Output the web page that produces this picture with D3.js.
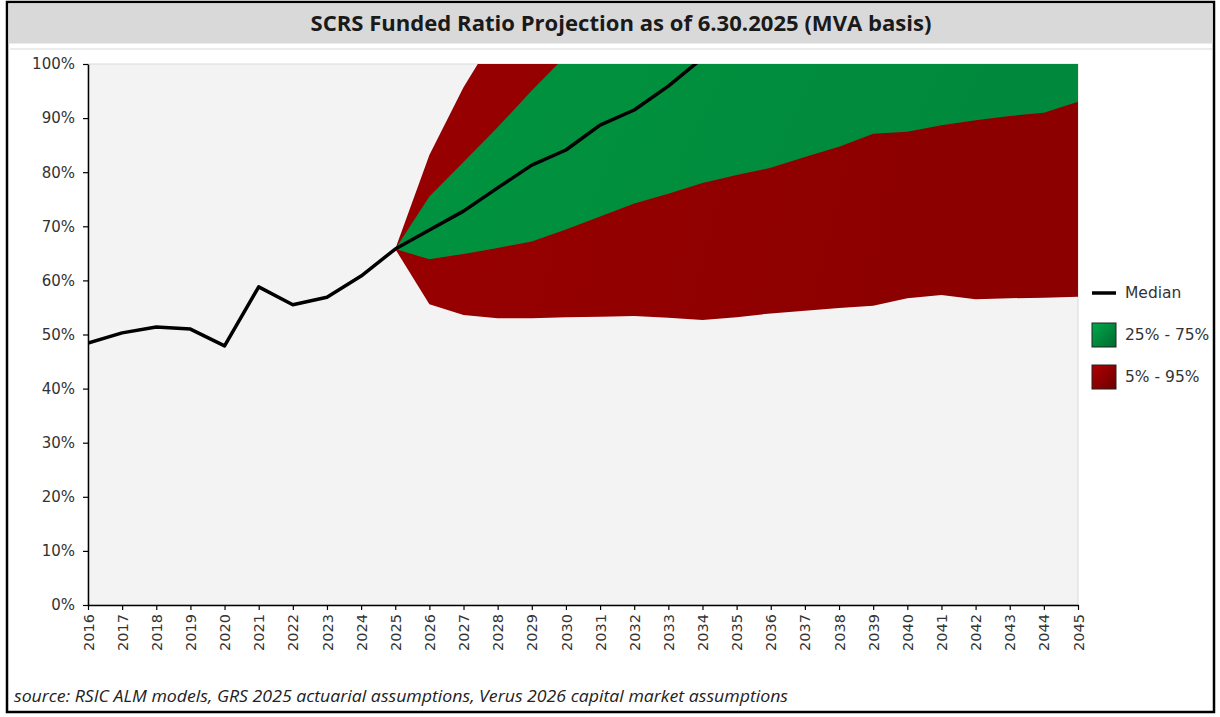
<!DOCTYPE html>
<html>
<head>
<meta charset="utf-8">
<script src="https://cdn.jsdelivr.net/npm/d3@7"></script>
<style>
  body { margin: 0; background: #fff; }
  svg { display: block; }
</style>
</head>
<body>
<div id="chart"></div>
<script>
// ---- data ----
var years = [2016, 2017, 2018, 2019, 2020, 2021, 2022, 2023, 2024, 2025,
             2026, 2027, 2028, 2029, 2030, 2031, 2032, 2033, 2034, 2035,
             2036, 2037, 2038, 2039, 2040, 2041, 2042, 2043, 2044, 2045];

// median funded ratio, history then projection (leaves the chart above 100% after 2033)
var medianYears = [2016, 2017, 2018, 2019, 2020, 2021, 2022, 2023, 2024, 2025,
                   2026, 2027, 2028, 2029, 2030, 2031, 2032, 2033, 2034];
var median = [48.4, 50.3, 51.4, 51.0, 47.9, 58.8, 55.5, 56.9, 60.8, 65.8,
              69.3, 72.8, 77.1, 81.3, 84.1, 88.7, 91.5, 95.9, 101.1];

// percentile bands, 2025 - 2045
var bandYears = [2025, 2026, 2027, 2028, 2029, 2030, 2031, 2032, 2033, 2034, 2035,
                 2036, 2037, 2038, 2039, 2040, 2041, 2042, 2043, 2044, 2045];
var p5  = [65.8, 55.6, 53.6, 53.0, 53.0, 53.2, 53.3, 53.4, 53.1, 52.7, 53.2,
           53.9, 54.4, 54.9, 55.3, 56.7, 57.3, 56.5, 56.7, 56.8, 57.0];
var p25 = [65.8, 63.9, 64.9, 66.0, 67.2, 69.4, 71.8, 74.2, 76.0, 78.0, 79.5,
           80.8, 82.8, 84.7, 87.1, 87.5, 88.7, 89.6, 90.4, 91.0, 93.0];
var p75 = [65.8, 75.5, 81.9, 88.3, 95.1, 101.5, 105, 108, 111, 114, 117,
           120, 123, 126, 129, 132, 135, 138, 141, 144, 147];
var p95 = [65.8, 83.2, 95.7, 106, 112, 118, 124, 130, 136, 142, 148,
           154, 160, 166, 172, 178, 184, 190, 196, 202, 208];

var yTicks = [0, 10, 20, 30, 40, 50, 60, 70, 80, 90, 100];

var legendItems = [
  {name: "Median", type: "line"},
  {name: "25% - 75%", type: "box", fill: "url(#legGreen)"},
  {name: "5% - 95%", type: "box", fill: "url(#legRed)"}
];

var title = "SCRS Funded Ratio Projection as of 6.30.2025 (MVA basis)";
var source = "source: RSIC ALM models, GRS 2025 actuarial assumptions, Verus 2026 capital market assumptions";

// ---- layout ----
var W = 1220, H = 717;
var plot = {left: 88, right: 1078, top: 64, bottom: 605};

var svg = d3.select("#chart").append("svg")
    .attr("width", W)
    .attr("height", H);

var defs = svg.append("defs");

function gradient(id, from, to, x2, y2) {
  var g = defs.append("linearGradient")
      .attr("id", id)
      .attr("x1", "0").attr("y1", "0")
      .attr("x2", x2).attr("y2", y2);
  g.append("stop").attr("offset", "0%").attr("stop-color", from);
  g.append("stop").attr("offset", "100%").attr("stop-color", to);
}
gradient("bandRed", "#9c0000", "#8c0000", "1", "0.3");
gradient("bandGreen", "#00963f", "#00893c", "1", "0.3");
gradient("legRed", "#b00000", "#6c0000", "1", "1");
gradient("legGreen", "#00a94c", "#006a2e", "1", "1");

defs.append("clipPath").attr("id", "plotClip")
  .append("rect")
    .attr("x", plot.left)
    .attr("y", plot.top)
    .attr("width", plot.right - plot.left)
    .attr("height", plot.bottom - plot.top);

// outer frame
svg.append("rect")
    .attr("x", 7).attr("y", 2)
    .attr("width", 1207).attr("height", 710)
    .attr("fill", "#fff")
    .attr("stroke", "#000")
    .attr("stroke-width", 2.5);

// title band
svg.append("rect")
    .attr("x", 8.5).attr("y", 3.5)
    .attr("width", 1204).attr("height", 40)
    .attr("fill", "#d9d9d9");

svg.append("text")
    .attr("x", 621)
    .attr("y", 31)
    .attr("text-anchor", "middle")
    .attr("font-family", "Open Sans")
    .attr("font-weight", "bold")
    .attr("font-size", "21.5px")
    .attr("textLength", 621)
    .attr("lengthAdjust", "spacingAndGlyphs")
    .attr("fill", "#1a1a1a")
    .text(title);

svg.append("line")
    .attr("x1", 10).attr("x2", 1212)
    .attr("y1", 49).attr("y2", 49)
    .attr("stroke", "#ececec")
    .attr("stroke-width", 2);

// scales
var x = d3.scaleLinear()
    .domain([d3.min(years), d3.max(years)])
    .range([plot.left, plot.right]);

var y = d3.scaleLinear()
    .domain([0, 100])
    .range([plot.bottom, plot.top]);

// plot background
svg.append("rect")
    .attr("x", plot.left)
    .attr("y", plot.top)
    .attr("width", plot.right - plot.left)
    .attr("height", plot.bottom - plot.top)
    .attr("fill", "#f3f3f3")
    .attr("stroke", "#d9d9d9")
    .attr("stroke-width", 1);

var g = svg.append("g").attr("clip-path", "url(#plotClip)");

var outer = d3.area()
    .x(function(d, i) { return x(bandYears[i]); })
    .y0(function(d, i) { return y(p5[i]); })
    .y1(function(d, i) { return y(p95[i]); });

var inner = d3.area()
    .x(function(d, i) { return x(bandYears[i]); })
    .y0(function(d, i) { return y(p25[i]); })
    .y1(function(d, i) { return y(p75[i]); });

g.append("path")
    .datum(bandYears)
    .attr("d", outer)
    .attr("fill", "url(#bandRed)");

g.append("path")
    .datum(bandYears)
    .attr("d", inner)
    .attr("fill", "url(#bandGreen)");

var line = d3.line()
    .x(function(d, i) { return x(medianYears[i]); })
    .y(function(d) { return y(d); });

g.append("path")
    .datum(median)
    .attr("d", line)
    .attr("fill", "none")
    .attr("stroke", "#000")
    .attr("stroke-width", 3.5)
    .attr("stroke-linejoin", "round");

// axes
var yAxis = svg.append("g")
    .attr("transform", "translate(" + plot.left + ",0)")
    .call(d3.axisLeft(y)
      .tickValues(yTicks)
      .tickSize(5)
      .tickSizeOuter(0)
      .tickPadding(8)
      .tickFormat(function(d) { return d + "%"; }));

var xAxis = svg.append("g")
    .attr("transform", "translate(0," + plot.bottom + ")")
    .call(d3.axisBottom(x)
      .tickValues(years)
      .tickSize(5)
      .tickSizeOuter(0)
      .tickFormat(d3.format("d")));

xAxis.selectAll("text")
    .attr("transform", "rotate(-90)")
    .attr("x", -9)
    .attr("y", 0)
    .attr("dy", "0.35em")
    .style("text-anchor", "end");

[xAxis, yAxis].forEach(function(ax) {
  ax.select(".domain").attr("stroke", "#000").attr("stroke-width", 1.5);
  ax.selectAll(".tick line").attr("stroke", "#000").attr("stroke-width", 1.2);
  ax.selectAll("text")
    .attr("font-family", "DejaVu Sans")
    .attr("font-size", "14.5px")
    .attr("fill", "#333");
});
yAxis.selectAll("text").attr("font-size", "15px");

// legend
var legend = svg.append("g")
    .attr("transform", "translate(1091,0)");

var legendY = [293, 335, 377];

legendItems.forEach(function(d, i) {
  var row = legend.append("g")
      .attr("transform", "translate(0," + legendY[i] + ")");
  if (d.type === "line") {
    row.append("line")
        .attr("x1", 1).attr("x2", 25)
        .attr("y1", 0).attr("y2", 0)
        .attr("stroke", "#000")
        .attr("stroke-width", 3.5);
  } else {
    row.append("rect")
        .attr("x", 1).attr("y", -12)
        .attr("width", 24).attr("height", 24)
        .attr("fill", d.fill)
        .attr("stroke", "#222")
        .attr("stroke-width", 1);
  }
  row.append("text")
      .attr("x", 34)
      .attr("y", 0)
      .attr("dy", "0.35em")
      .attr("font-family", "DejaVu Sans")
      .attr("font-size", "15.5px")
      .attr("fill", "#333")
      .text(d.name);
});

// source note
svg.append("text")
    .attr("x", 14)
    .attr("y", 702)
    .attr("font-family", "Open Sans")
    .attr("font-style", "italic")
    .attr("font-size", "17px")
    .attr("textLength", 774)
    .attr("lengthAdjust", "spacingAndGlyphs")
    .attr("fill", "#222")
    .text(source);
</script>
</body>
</html>
